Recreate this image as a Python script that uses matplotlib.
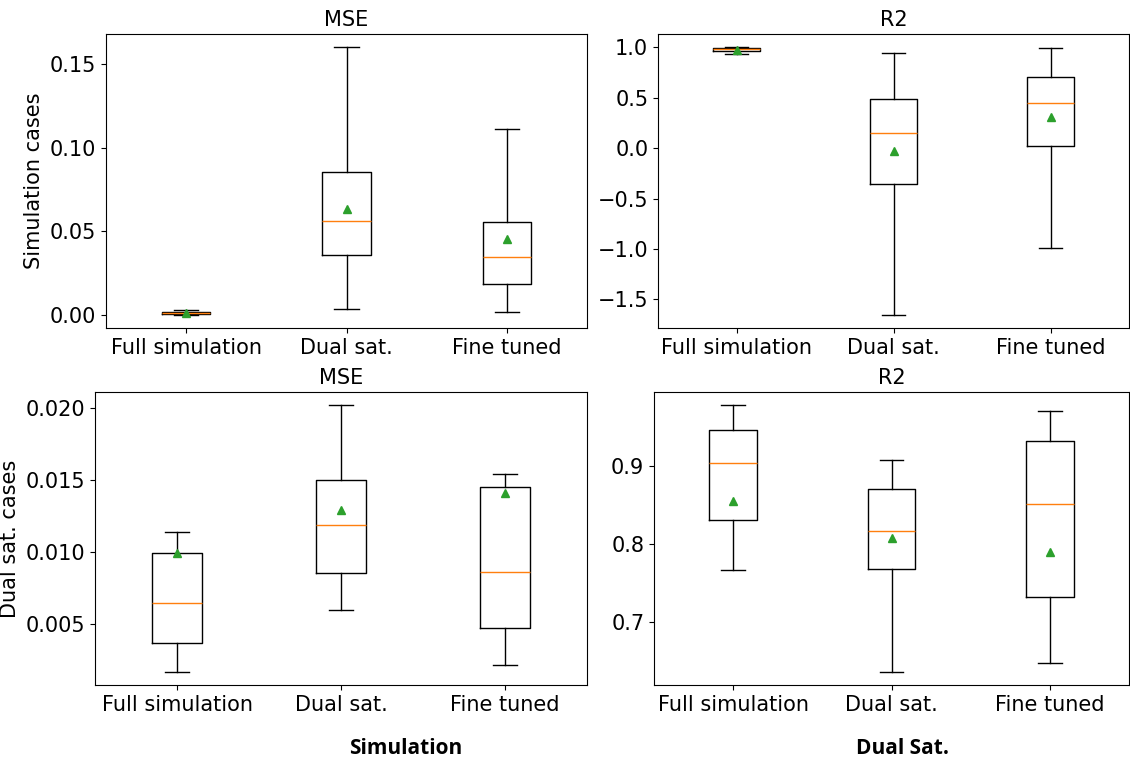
import matplotlib.pyplot as plt

# model names on the x axis
models = ['Full simulation', 'Dual sat.', 'Fine tuned']

# box stats: low whisker, q1, median, q3, high whisker, mean
# simulation cases
sim_mse_lo = [0.0000, 0.0036, 0.0018]
sim_mse_q1 = [0.0005, 0.0360, 0.0186]
sim_mse_med = [0.0010, 0.0563, 0.0347]
sim_mse_q3 = [0.0015, 0.0856, 0.0557]
sim_mse_hi = [0.0030, 0.1600, 0.1110]
sim_mse_mean = [0.0010, 0.0630, 0.0450]

sim_r2_lo = [0.930, -1.650, -0.990]
sim_r2_q1 = [0.960, -0.360, 0.020]
sim_r2_med = [0.980, 0.150, 0.450]
sim_r2_q3 = [0.993, 0.490, 0.700]
sim_r2_hi = [0.997, 0.940, 0.990]
sim_r2_mean = [0.970, -0.030, 0.310]

# dual sat. cases
dual_mse_lo = [0.00168, 0.00594, 0.00216]
dual_mse_q1 = [0.00369, 0.00855, 0.00472]
dual_mse_med = [0.00645, 0.01187, 0.00857]
dual_mse_q3 = [0.00991, 0.01500, 0.01447]
dual_mse_hi = [0.01138, 0.02017, 0.01541]
dual_mse_mean = [0.00995, 0.01288, 0.01406]

dual_r2_lo = [0.7665, 0.6366, 0.648]
dual_r2_q1 = [0.831, 0.7677, 0.732]
dual_r2_med = [0.9036, 0.8166, 0.8513]
dual_r2_q3 = [0.946, 0.870, 0.9316]
dual_r2_hi = [0.977, 0.907, 0.970]
dual_r2_mean = [0.855, 0.807, 0.790]


def make_stats(lo, q1, med, q3, hi, mean):
    stats = []
    for i in range(len(models)):
        stats.append({'label': models[i], 'whislo': lo[i], 'q1': q1[i],
                      'med': med[i], 'q3': q3[i], 'whishi': hi[i],
                      'mean': mean[i], 'fliers': []})
    return stats


plt.rcParams['font.size'] = 15

fig = plt.figure(figsize=(11.3, 7.59), dpi=100)
W, H = 1130.0, 759.0


def box(l, t, r, b):
    return [l / W, 1 - b / H, (r - l) / W, (b - t) / H]


ax1 = fig.add_axes(box(106, 34, 587, 328))
ax2 = fig.add_axes(box(658, 34, 1129, 328))
ax3 = fig.add_axes(box(95, 392, 587, 685))
ax4 = fig.add_axes(box(654, 392, 1129, 685))

panels = [
    (ax1, make_stats(sim_mse_lo, sim_mse_q1, sim_mse_med, sim_mse_q3, sim_mse_hi, sim_mse_mean), 'MSE'),
    (ax2, make_stats(sim_r2_lo, sim_r2_q1, sim_r2_med, sim_r2_q3, sim_r2_hi, sim_r2_mean), 'R2'),
    (ax3, make_stats(dual_mse_lo, dual_mse_q1, dual_mse_med, dual_mse_q3, dual_mse_hi, dual_mse_mean), 'MSE'),
    (ax4, make_stats(dual_r2_lo, dual_r2_q1, dual_r2_med, dual_r2_q3, dual_r2_hi, dual_r2_mean), 'R2'),
]

for ax, stats, title in panels:
    ax.bxp(stats, showmeans=True, showfliers=False)
    ax.set_title(title, fontsize=15)

ax1.set_ylabel('Simulation cases')
ax3.set_ylabel('Dual sat. cases')
ax1.set_yticks([0.0, 0.05, 0.10, 0.15])
ax3.set_yticks([0.005, 0.010, 0.015, 0.020])
ax4.set_yticks([0.7, 0.8, 0.9])

# column labels under the bottom row
fig.text(406 / W, 1 - 748 / H, 'Simulation', ha='center', va='center',
         fontsize=15, fontweight='bold', family='Open Sans')
fig.text(902 / W, 1 - 748 / H, 'Dual Sat.', ha='center', va='center',
         fontsize=15, fontweight='bold', family='Open Sans')

fig.savefig('out.png', dpi=100)
